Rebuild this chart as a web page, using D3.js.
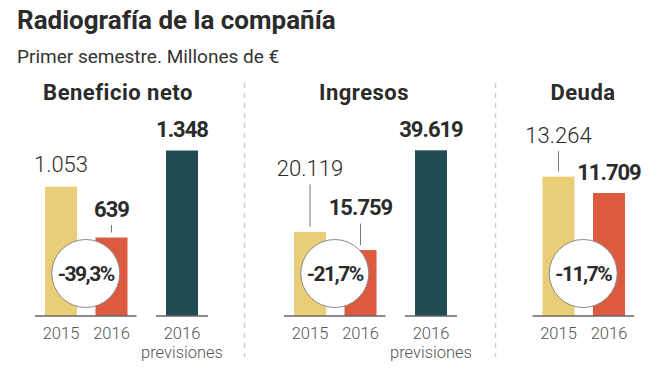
<!DOCTYPE html>
<html><head><meta charset="utf-8">
<script src="https://cdn.jsdelivr.net/npm/d3@7"></script>
<style>body{margin:0;background:#fff;} svg{display:block;font-family:Roboto, "Liberation Sans", sans-serif;}</style>
</head><body><svg id="c" width="664" height="376"></svg>
<script>
// ---- data ----
const title = "Radiografía de la compañía";
const subtitle = "Primer semestre. Millones de €";
const panelTitles = ["Beneficio neto", "Ingresos", "Deuda"];
const yearLabels = ["2015", "2016"];
const forecastLabel = ["2016", "previsiones"];
const values2015 = [1053, 20119, 13264];
const values2016 = [639, 15759, 11709];
const forecast2016 = [1348, 39619, null];
const changeLabels = ["-39,3%", "-21,7%", "-11,7%"];

// ---- layout ----
const baseY = 316, barW = 32, maxH = 166;
const panelX = [61, 310, 558.5];
const titleX = [118, 364, 583];
const scaleMax = [1352, 39700, 15800];
const lift2015 = [15, 56, 34];
const lift2016 = [21, 35, 13];
const liftForecast = 13.5;
const sepX = [244.5, 495.5];
const colors = {y2015: "#e9cd77", y2016: "#dc5b40", prev: "#224c54"};

const loc = d3.formatLocale({decimal: ",", thousands: ".", grouping: [3], currency: ["", "€"]});
const fmt = loc.format(",d");
const xOff = d3.scaleOrdinal().domain(["2015", "2016", "prev"]).range([0, 50.5, 121]);

const svg = d3.select("#c");

svg.append("text").attr("x", 17).attr("y", 29).attr("font-size", 26).attr("font-weight", 700)
  .attr("fill", "#2b2b2b").text(title);
svg.append("text").attr("x", 17).attr("y", 63).attr("font-size", 19).attr("font-weight", 400)
  .attr("fill", "#333").text(subtitle);

svg.selectAll("line.sep").data(sepX).join("line").attr("class", "sep")
  .attr("x1", d => d).attr("x2", d => d).attr("y1", 83).attr("y2", 357)
  .attr("stroke", "#cfcfcf").attr("stroke-width", 1.5).attr("stroke-dasharray", "5,5");

panelTitles.forEach((pt, i) => {
  const g = svg.append("g");
  const y = d3.scaleLinear().domain([0, scaleMax[i]]).range([baseY, baseY - maxH]);
  const x = k => panelX[i] + xOff(k);

  g.append("text").attr("x", titleX[i]).attr("y", 100).attr("text-anchor", "middle")
    .attr("font-size", 22).attr("font-weight", 700).attr("letter-spacing", 0.5)
    .attr("fill", "#2b2b2b").text(pt);

  const bars = [
    {k: "2015", v: values2015[i], c: colors.y2015},
    {k: "2016", v: values2016[i], c: colors.y2016}
  ];
  if (forecast2016[i] != null) bars.push({k: "prev", v: forecast2016[i], c: colors.prev});

  g.selectAll("rect").data(bars).join("rect")
    .attr("x", d => x(d.k) - barW / 2).attr("width", barW)
    .attr("y", d => y(d.v)).attr("height", d => baseY - y(d.v)).attr("fill", d => d.c);

  // baselines
  g.append("line").attr("x1", x("2015") - 26).attr("x2", x("2016") + 25)
    .attr("y1", baseY).attr("y2", baseY).attr("stroke", "#666").attr("stroke-width", 1.5);
  if (forecast2016[i] != null)
    g.append("line").attr("x1", x("prev") - 26).attr("x2", x("prev") + 26)
      .attr("y1", baseY).attr("y2", baseY).attr("stroke", "#666").attr("stroke-width", 1.5);

  // value labels
  const lab = [
    {k: "2015", v: values2015[i], lift: lift2015[i], w: 300, ls: 0},
    {k: "2016", v: values2016[i], lift: lift2016[i], w: 700, ls: -1}
  ];
  if (forecast2016[i] != null) lab.push({k: "prev", v: forecast2016[i], lift: liftForecast, w: 700, ls: -1});
  lab.forEach(d => {
    const top = y(d.v), ly = top - d.lift;
    g.append("text").attr("x", x(d.k)).attr("y", ly).attr("text-anchor", "middle")
      .attr("font-size", 22).attr("font-weight", d.w).attr("letter-spacing", d.ls)
      .attr("fill", "#2b2b2b").text(fmt(d.v));
    if (d.lift > 18)
      g.append("line").attr("x1", x(d.k)).attr("x2", x(d.k)).attr("y1", ly + 8.5).attr("y2", top - 5)
        .attr("stroke", "#777").attr("stroke-width", 1);
  });

  // change circle
  const cx = (x("2015") + x("2016")) / 2 - 0.5, cy = baseY - 42.5;
  g.append("circle").attr("cx", cx).attr("cy", cy).attr("r", 34)
    .attr("fill", "#fff").attr("stroke", "#8a8a8a").attr("stroke-width", 1);
  g.append("text").attr("x", cx).attr("y", cy + 7.5).attr("text-anchor", "middle")
    .attr("font-size", 21).attr("font-weight", 700).attr("fill", "#2b2b2b").attr("letter-spacing", -1.5)
    .text(changeLabels[i]);

  // axis labels
  yearLabels.forEach(yl => {
    g.append("text").attr("x", x(yl)).attr("y", 338.5).attr("text-anchor", "middle")
      .attr("font-size", 16.5).attr("font-weight", 300).attr("fill", "#555").text(yl);
  });
  if (forecast2016[i] != null) {
    const t = g.append("text").attr("text-anchor", "middle")
      .attr("font-size", 16.5).attr("font-weight", 300).attr("fill", "#555");
    forecastLabel.forEach((s, j) => {
      t.append("tspan").attr("x", x("prev")).attr("y", 338.5 + j * 19.5).text(s);
    });
  }
});
</script></body></html>
